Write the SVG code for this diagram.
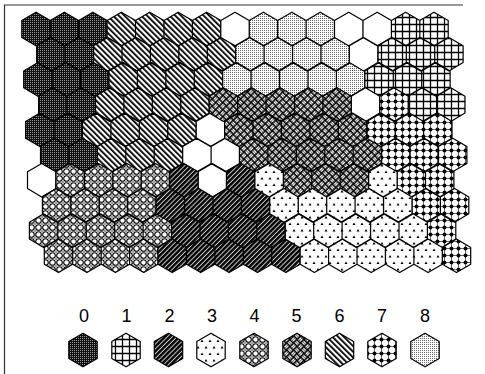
<svg xmlns="http://www.w3.org/2000/svg" width="485" height="374" viewBox="0 0 485 374">
<style>
.hx{stroke:#000;stroke-width:1.2;stroke-linejoin:round}
.c0{fill:url(#p0)}.c1{fill:url(#p1)}.c2{fill:url(#p2)}.c3{fill:url(#p3)}.c4{fill:url(#p4)}
.c5{fill:url(#p5)}.c6{fill:url(#p6)}.c7{fill:url(#p7)}.c8{fill:url(#p8)}.cw{fill:#fff}
.t{font-family:"Liberation Sans",Arial,sans-serif;font-size:18px;text-anchor:middle;fill:#000}
.frame{stroke:#333;stroke-width:1.2;fill:none}
</style>
<defs>
<path id="lh" d="M0 -16.8l14.2 8.4v16.8l-14.2 8.4-14.2-8.4v-16.8z"/>
<pattern id="p0" width="2" height="2" patternUnits="userSpaceOnUse"><rect width="2" height="2" fill="#111"/><rect width="1" height="1" fill="#999"/></pattern>
<pattern id="p1" width="7" height="7" patternUnits="userSpaceOnUse"><rect width="7" height="7" fill="#fff"/><path d="M0 3.5H7M3.5 0V7" stroke="#000" stroke-width="1.3"/></pattern>
<pattern id="p2" width="3.4" height="3.4" patternUnits="userSpaceOnUse" patternTransform="rotate(45)"><rect width="3.4" height="3.4" fill="#ccc"/><rect width="2.4" height="3.4" fill="#000"/></pattern>
<pattern id="p3" width="8" height="13" patternUnits="userSpaceOnUse"><rect width="8" height="13" fill="#fff"/><path d="M2 1.5L3.5 4H0.5Z M6 8L7.5 10.5H4.5Z" fill="#000"/></pattern>
<pattern id="p4" width="7" height="7" patternUnits="userSpaceOnUse"><rect width="7" height="7" fill="#fff"/><circle cx="3.5" cy="3.5" r="2.8" fill="none" stroke="#000" stroke-width="1.1"/><g fill="#888"><circle cx="0" cy="0" r="1.1"/><circle cx="7" cy="0" r="1.1"/><circle cx="0" cy="7" r="1.1"/><circle cx="7" cy="7" r="1.1"/></g></pattern>
<pattern id="p5" width="10" height="10" patternUnits="userSpaceOnUse" patternTransform="rotate(45)"><rect width="10" height="10" fill="#000"/><path d="M0.6 1.6H4.4M0.6 3.4H4.4M6.6 0.6V4.4M8.4 0.6V4.4M1.6 5.6V9.4M3.4 5.6V9.4M5.6 6.6H9.4M5.6 8.4H9.4" stroke="#fff" stroke-width="1.3"/></pattern>
<pattern id="p6" width="4" height="4" patternUnits="userSpaceOnUse" patternTransform="rotate(-45)"><rect width="4" height="4" fill="#fff"/><rect width="1.8" height="4" fill="#000"/></pattern>
<pattern id="p7" width="7" height="7" patternUnits="userSpaceOnUse"><rect width="7" height="7" fill="#fff"/><path d="M0 3.5H7M3.5 0V7" stroke="#000" stroke-width="0.6"/><circle cx="3.5" cy="3.5" r="2" fill="#000"/></pattern>
<pattern id="p8" width="2" height="2" patternUnits="userSpaceOnUse"><rect width="2" height="2" fill="#fff"/><rect width="1" height="1" fill="#666"/></pattern>
</defs>
<path class="frame" d="M4.5 374V5H463"/>
<g id="map" class="hx">
<path id="cls0" class="c0" d="M36 12.2l14.2 8.4v16.8l-14.2 8.4-14.2-8.4v-16.8zM64.4 12.2l14.2 8.4v16.8l-14.2 8.4-14.2-8.4v-16.8zM92.9 12.2l14.2 8.4v16.8l-14.2 8.4-14.2-8.4v-16.8zM50.9 37.4l14.2 8.4v16.8l-14.2 8.4-14.2-8.4v-16.8zM79.3 37.4l14.2 8.4v16.8l-14.2 8.4-14.2-8.4v-16.8zM37.9 62.6l14.2 8.4v16.8l-14.2 8.4-14.2-8.4v-16.8zM66.3 62.6l14.2 8.4v16.8l-14.2 8.4-14.2-8.4v-16.8zM94.8 62.6l14.2 8.4v16.8l-14.2 8.4-14.2-8.4v-16.8zM52.8 87.8l14.2 8.4v16.8l-14.2 8.4-14.2-8.4v-16.8zM81.2 87.8l14.2 8.4v16.8l-14.2 8.4-14.2-8.4v-16.8zM39.8 113l14.2 8.4v16.8l-14.2 8.4-14.2-8.4v-16.8zM68.2 113l14.2 8.4v16.8l-14.2 8.4-14.2-8.4v-16.8zM54.7 138.2l14.2 8.4v16.8l-14.2 8.4-14.2-8.4v-16.8zM83.1 138.2l14.2 8.4v16.8l-14.2 8.4-14.2-8.4v-16.8z"/>
<path id="cls6" class="c6" d="M121.3 12.2l14.2 8.4v16.8l-14.2 8.4-14.2-8.4v-16.8zM149.7 12.2l14.2 8.4v16.8l-14.2 8.4-14.2-8.4v-16.8zM178.2 12.2l14.2 8.4v16.8l-14.2 8.4-14.2-8.4v-16.8zM206.6 12.2l14.2 8.4v16.8l-14.2 8.4-14.2-8.4v-16.8zM107.8 37.4l14.2 8.4v16.8l-14.2 8.4-14.2-8.4v-16.8zM136.2 37.4l14.2 8.4v16.8l-14.2 8.4-14.2-8.4v-16.8zM164.6 37.4l14.2 8.4v16.8l-14.2 8.4-14.2-8.4v-16.8zM193.1 37.4l14.2 8.4v16.8l-14.2 8.4-14.2-8.4v-16.8zM221.5 37.4l14.2 8.4v16.8l-14.2 8.4-14.2-8.4v-16.8zM123.2 62.6l14.2 8.4v16.8l-14.2 8.4-14.2-8.4v-16.8zM151.6 62.6l14.2 8.4v16.8l-14.2 8.4-14.2-8.4v-16.8zM180.1 62.6l14.2 8.4v16.8l-14.2 8.4-14.2-8.4v-16.8zM208.5 62.6l14.2 8.4v16.8l-14.2 8.4-14.2-8.4v-16.8zM109.7 87.8l14.2 8.4v16.8l-14.2 8.4-14.2-8.4v-16.8zM138.1 87.8l14.2 8.4v16.8l-14.2 8.4-14.2-8.4v-16.8zM166.5 87.8l14.2 8.4v16.8l-14.2 8.4-14.2-8.4v-16.8zM195 87.8l14.2 8.4v16.8l-14.2 8.4-14.2-8.4v-16.8zM96.7 113l14.2 8.4v16.8l-14.2 8.4-14.2-8.4v-16.8zM125.1 113l14.2 8.4v16.8l-14.2 8.4-14.2-8.4v-16.8zM153.5 113l14.2 8.4v16.8l-14.2 8.4-14.2-8.4v-16.8zM182 113l14.2 8.4v16.8l-14.2 8.4-14.2-8.4v-16.8zM111.6 138.2l14.2 8.4v16.8l-14.2 8.4-14.2-8.4v-16.8zM140 138.2l14.2 8.4v16.8l-14.2 8.4-14.2-8.4v-16.8zM168.4 138.2l14.2 8.4v16.8l-14.2 8.4-14.2-8.4v-16.8z"/>
<path id="cls8" class="c8" d="M263.4 12.2l14.2 8.4v16.8l-14.2 8.4-14.2-8.4v-16.8zM291.9 12.2l14.2 8.4v16.8l-14.2 8.4-14.2-8.4v-16.8zM320.3 12.2l14.2 8.4v16.8l-14.2 8.4-14.2-8.4v-16.8zM249.9 37.4l14.2 8.4v16.8l-14.2 8.4-14.2-8.4v-16.8zM278.3 37.4l14.2 8.4v16.8l-14.2 8.4-14.2-8.4v-16.8zM306.8 37.4l14.2 8.4v16.8l-14.2 8.4-14.2-8.4v-16.8zM335.2 37.4l14.2 8.4v16.8l-14.2 8.4-14.2-8.4v-16.8zM236.9 62.6l14.2 8.4v16.8l-14.2 8.4-14.2-8.4v-16.8zM265.3 62.6l14.2 8.4v16.8l-14.2 8.4-14.2-8.4v-16.8zM293.8 62.6l14.2 8.4v16.8l-14.2 8.4-14.2-8.4v-16.8zM322.2 62.6l14.2 8.4v16.8l-14.2 8.4-14.2-8.4v-16.8zM350.6 62.6l14.2 8.4v16.8l-14.2 8.4-14.2-8.4v-16.8z"/>
<path id="cls1" class="c1" d="M405.6 12.2l14.2 8.4v16.8l-14.2 8.4-14.2-8.4v-16.8zM434 12.2l14.2 8.4v16.8l-14.2 8.4-14.2-8.4v-16.8zM392.1 37.4l14.2 8.4v16.8l-14.2 8.4-14.2-8.4v-16.8zM420.5 37.4l14.2 8.4v16.8l-14.2 8.4-14.2-8.4v-16.8zM448.9 37.4l14.2 8.4v16.8l-14.2 8.4-14.2-8.4v-16.8zM379.1 62.6l14.2 8.4v16.8l-14.2 8.4-14.2-8.4v-16.8zM407.5 62.6l14.2 8.4v16.8l-14.2 8.4-14.2-8.4v-16.8zM435.9 62.6l14.2 8.4v16.8l-14.2 8.4-14.2-8.4v-16.8zM422.4 87.8l14.2 8.4v16.8l-14.2 8.4-14.2-8.4v-16.8zM450.8 87.8l14.2 8.4v16.8l-14.2 8.4-14.2-8.4v-16.8z"/>
<path id="empty" class="cw" d="M235 12.2l14.2 8.4v16.8l-14.2 8.4-14.2-8.4v-16.8zM348.7 12.2l14.2 8.4v16.8l-14.2 8.4-14.2-8.4v-16.8zM377.2 12.2l14.2 8.4v16.8l-14.2 8.4-14.2-8.4v-16.8zM363.6 37.4l14.2 8.4v16.8l-14.2 8.4-14.2-8.4v-16.8zM365.5 87.8l14.2 8.4v16.8l-14.2 8.4-14.2-8.4v-16.8zM210.4 113l14.2 8.4v16.8l-14.2 8.4-14.2-8.4v-16.8zM196.9 138.2l14.2 8.4v16.8l-14.2 8.4-14.2-8.4v-16.8zM225.3 138.2l14.2 8.4v16.8l-14.2 8.4-14.2-8.4v-16.8zM41.7 163.4l14.2 8.4v16.8l-14.2 8.4-14.2-8.4v-16.8zM212.3 163.4l14.2 8.4v16.8l-14.2 8.4-14.2-8.4v-16.8z"/>
<path id="cls5" class="c5" d="M223.4 87.8l14.2 8.4v16.8l-14.2 8.4-14.2-8.4v-16.8zM251.8 87.8l14.2 8.4v16.8l-14.2 8.4-14.2-8.4v-16.8zM280.2 87.8l14.2 8.4v16.8l-14.2 8.4-14.2-8.4v-16.8zM308.7 87.8l14.2 8.4v16.8l-14.2 8.4-14.2-8.4v-16.8zM337.1 87.8l14.2 8.4v16.8l-14.2 8.4-14.2-8.4v-16.8zM238.8 113l14.2 8.4v16.8l-14.2 8.4-14.2-8.4v-16.8zM267.2 113l14.2 8.4v16.8l-14.2 8.4-14.2-8.4v-16.8zM295.7 113l14.2 8.4v16.8l-14.2 8.4-14.2-8.4v-16.8zM324.1 113l14.2 8.4v16.8l-14.2 8.4-14.2-8.4v-16.8zM352.5 113l14.2 8.4v16.8l-14.2 8.4-14.2-8.4v-16.8zM253.7 138.2l14.2 8.4v16.8l-14.2 8.4-14.2-8.4v-16.8zM282.1 138.2l14.2 8.4v16.8l-14.2 8.4-14.2-8.4v-16.8zM310.6 138.2l14.2 8.4v16.8l-14.2 8.4-14.2-8.4v-16.8zM339 138.2l14.2 8.4v16.8l-14.2 8.4-14.2-8.4v-16.8zM367.4 138.2l14.2 8.4v16.8l-14.2 8.4-14.2-8.4v-16.8zM297.6 163.4l14.2 8.4v16.8l-14.2 8.4-14.2-8.4v-16.8zM326 163.4l14.2 8.4v16.8l-14.2 8.4-14.2-8.4v-16.8zM354.4 163.4l14.2 8.4v16.8l-14.2 8.4-14.2-8.4v-16.8z"/>
<path id="cls7" class="c7" d="M394 87.8l14.2 8.4v16.8l-14.2 8.4-14.2-8.4v-16.8zM381 113l14.2 8.4v16.8l-14.2 8.4-14.2-8.4v-16.8zM409.4 113l14.2 8.4v16.8l-14.2 8.4-14.2-8.4v-16.8zM437.8 113l14.2 8.4v16.8l-14.2 8.4-14.2-8.4v-16.8zM395.9 138.2l14.2 8.4v16.8l-14.2 8.4-14.2-8.4v-16.8zM424.3 138.2l14.2 8.4v16.8l-14.2 8.4-14.2-8.4v-16.8zM452.7 138.2l14.2 8.4v16.8l-14.2 8.4-14.2-8.4v-16.8zM411.3 163.4l14.2 8.4v16.8l-14.2 8.4-14.2-8.4v-16.8zM439.7 163.4l14.2 8.4v16.8l-14.2 8.4-14.2-8.4v-16.8zM426.2 188.6l14.2 8.4v16.8l-14.2 8.4-14.2-8.4v-16.8zM454.6 188.6l14.2 8.4v16.8l-14.2 8.4-14.2-8.4v-16.8zM441.6 213.8l14.2 8.4v16.8l-14.2 8.4-14.2-8.4v-16.8zM456.5 239l14.2 8.4v16.8l-14.2 8.4-14.2-8.4v-16.8z"/>
<path id="cls4" class="c4" d="M70.1 163.4l14.2 8.4v16.8l-14.2 8.4-14.2-8.4v-16.8zM98.6 163.4l14.2 8.4v16.8l-14.2 8.4-14.2-8.4v-16.8zM127 163.4l14.2 8.4v16.8l-14.2 8.4-14.2-8.4v-16.8zM155.4 163.4l14.2 8.4v16.8l-14.2 8.4-14.2-8.4v-16.8zM56.6 188.6l14.2 8.4v16.8l-14.2 8.4-14.2-8.4v-16.8zM85 188.6l14.2 8.4v16.8l-14.2 8.4-14.2-8.4v-16.8zM113.5 188.6l14.2 8.4v16.8l-14.2 8.4-14.2-8.4v-16.8zM141.9 188.6l14.2 8.4v16.8l-14.2 8.4-14.2-8.4v-16.8zM43.6 213.8l14.2 8.4v16.8l-14.2 8.4-14.2-8.4v-16.8zM72 213.8l14.2 8.4v16.8l-14.2 8.4-14.2-8.4v-16.8zM100.5 213.8l14.2 8.4v16.8l-14.2 8.4-14.2-8.4v-16.8zM128.9 213.8l14.2 8.4v16.8l-14.2 8.4-14.2-8.4v-16.8zM157.3 213.8l14.2 8.4v16.8l-14.2 8.4-14.2-8.4v-16.8zM58.5 239l14.2 8.4v16.8l-14.2 8.4-14.2-8.4v-16.8zM86.9 239l14.2 8.4v16.8l-14.2 8.4-14.2-8.4v-16.8zM115.4 239l14.2 8.4v16.8l-14.2 8.4-14.2-8.4v-16.8zM143.8 239l14.2 8.4v16.8l-14.2 8.4-14.2-8.4v-16.8z"/>
<path id="cls2" class="c2" d="M183.9 163.4l14.2 8.4v16.8l-14.2 8.4-14.2-8.4v-16.8zM240.7 163.4l14.2 8.4v16.8l-14.2 8.4-14.2-8.4v-16.8zM170.3 188.6l14.2 8.4v16.8l-14.2 8.4-14.2-8.4v-16.8zM198.8 188.6l14.2 8.4v16.8l-14.2 8.4-14.2-8.4v-16.8zM227.2 188.6l14.2 8.4v16.8l-14.2 8.4-14.2-8.4v-16.8zM255.6 188.6l14.2 8.4v16.8l-14.2 8.4-14.2-8.4v-16.8zM185.8 213.8l14.2 8.4v16.8l-14.2 8.4-14.2-8.4v-16.8zM214.2 213.8l14.2 8.4v16.8l-14.2 8.4-14.2-8.4v-16.8zM242.6 213.8l14.2 8.4v16.8l-14.2 8.4-14.2-8.4v-16.8zM271 213.8l14.2 8.4v16.8l-14.2 8.4-14.2-8.4v-16.8zM172.2 239l14.2 8.4v16.8l-14.2 8.4-14.2-8.4v-16.8zM200.7 239l14.2 8.4v16.8l-14.2 8.4-14.2-8.4v-16.8zM229.1 239l14.2 8.4v16.8l-14.2 8.4-14.2-8.4v-16.8zM257.5 239l14.2 8.4v16.8l-14.2 8.4-14.2-8.4v-16.8zM285.9 239l14.2 8.4v16.8l-14.2 8.4-14.2-8.4v-16.8z"/>
<path id="cls3" class="c3" d="M269.1 163.4l14.2 8.4v16.8l-14.2 8.4-14.2-8.4v-16.8zM382.9 163.4l14.2 8.4v16.8l-14.2 8.4-14.2-8.4v-16.8zM284 188.6l14.2 8.4v16.8l-14.2 8.4-14.2-8.4v-16.8zM312.5 188.6l14.2 8.4v16.8l-14.2 8.4-14.2-8.4v-16.8zM340.9 188.6l14.2 8.4v16.8l-14.2 8.4-14.2-8.4v-16.8zM369.3 188.6l14.2 8.4v16.8l-14.2 8.4-14.2-8.4v-16.8zM397.8 188.6l14.2 8.4v16.8l-14.2 8.4-14.2-8.4v-16.8zM299.5 213.8l14.2 8.4v16.8l-14.2 8.4-14.2-8.4v-16.8zM327.9 213.8l14.2 8.4v16.8l-14.2 8.4-14.2-8.4v-16.8zM356.3 213.8l14.2 8.4v16.8l-14.2 8.4-14.2-8.4v-16.8zM384.8 213.8l14.2 8.4v16.8l-14.2 8.4-14.2-8.4v-16.8zM413.2 213.8l14.2 8.4v16.8l-14.2 8.4-14.2-8.4v-16.8zM314.4 239l14.2 8.4v16.8l-14.2 8.4-14.2-8.4v-16.8zM342.8 239l14.2 8.4v16.8l-14.2 8.4-14.2-8.4v-16.8zM371.2 239l14.2 8.4v16.8l-14.2 8.4-14.2-8.4v-16.8zM399.7 239l14.2 8.4v16.8l-14.2 8.4-14.2-8.4v-16.8zM428.1 239l14.2 8.4v16.8l-14.2 8.4-14.2-8.4v-16.8z"/>
</g>
<g id="legend" class="hx">
<g id="key0"><path class="c0" d="M83 333.2l14.2 8.4v16.8l-14.2 8.4-14.2-8.4v-16.8z"/><text class="t" x="84" y="322" stroke="none">0</text></g>
<g id="key1"><path class="c1" d="M126 333.2l14.2 8.4v16.8l-14.2 8.4-14.2-8.4v-16.8z"/><text class="t" x="126.5" y="322" stroke="none">1</text></g>
<g id="key2"><path class="c2" d="M168.5 333.2l14.2 8.4v16.8l-14.2 8.4-14.2-8.4v-16.8z"/><text class="t" x="169.5" y="322" stroke="none">2</text></g>
<g id="key3"><path class="c3" d="M211 333.2l14.2 8.4v16.8l-14.2 8.4-14.2-8.4v-16.8z"/><text class="t" x="212" y="322" stroke="none">3</text></g>
<g id="key4"><path class="c4" d="M254 333.2l14.2 8.4v16.8l-14.2 8.4-14.2-8.4v-16.8z"/><text class="t" x="254.5" y="322" stroke="none">4</text></g>
<g id="key5"><path class="c5" d="M297 333.2l14.2 8.4v16.8l-14.2 8.4-14.2-8.4v-16.8z"/><text class="t" x="296.5" y="322" stroke="none">5</text></g>
<g id="key6"><path class="c6" d="M339.5 333.2l14.2 8.4v16.8l-14.2 8.4-14.2-8.4v-16.8z"/><text class="t" x="339.5" y="322" stroke="none">6</text></g>
<g id="key7"><path class="c7" d="M382 333.2l14.2 8.4v16.8l-14.2 8.4-14.2-8.4v-16.8z"/><text class="t" x="382" y="322" stroke="none">7</text></g>
<g id="key8"><path class="c8" d="M425 333.2l14.2 8.4v16.8l-14.2 8.4-14.2-8.4v-16.8z"/><text class="t" x="425" y="322" stroke="none">8</text></g>
</g>
</svg>
